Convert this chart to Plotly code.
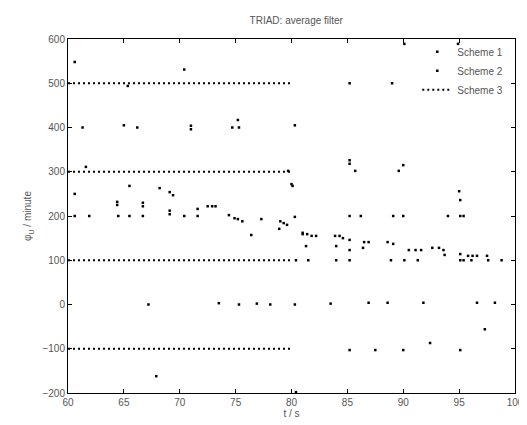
import plotly.graph_objects as go

# ---- data ----
# Scheme 1: raw (quantised) measurements
s1_t = [60.6, 70.4, 90.1, 94.9, 65.35, 85.2, 89.0,
        61.3, 65.0, 66.2, 71.0, 71.0, 74.7, 75.3, 75.2, 80.3,
        61.6, 79.7, 85.2, 85.2, 85.7, 89.6, 90.0,
        60.6, 61.9, 64.5, 65.5, 66.7, 70.4, 71.6, 69.1, 69.1, 80.3, 85.2, 86.2, 89.1, 90.0, 94.0, 95.1, 95.4,
        80.4, 81.5, 84.0, 85.2, 88.9, 90.1, 91.3, 95.1, 95.4, 96.1, 97.6,
        67.2, 73.5, 75.3, 76.9, 78.1, 80.3, 83.5, 86.9, 88.6, 91.8, 96.6, 98.2,
        67.9, 80.4, 85.2, 87.5, 90.0, 92.4, 95.1, 97.3]
s1_phi = [548, 531, 589, 589, 494, 500, 500,
          400, 405, 400, 404, 396, 400, 400, 417, 405,
          311, 302, 326, 318, 302, 302, 315,
          200, 200, 200, 200, 200, 200, 200, 212, 204, 198, 200, 200, 200, 200, 200, 200, 200,
          100, 100, 100, 100, 100, 100, 100, 100, 100, 100, 100,
          0, 3, 0, 2, 0, 0, 2, 4, 4, 4, 4, 4,
          -162, -198, -103, -103, -103, -87, -103, -56]

# Scheme 2: average-filter output
s2_t = [60.6, 64.4, 64.4, 65.5, 66.7, 66.7, 68.2, 69.1, 69.4, 71.6, 72.5, 72.9, 73.2,
        74.4, 74.9, 75.2, 75.6, 76.4, 77.3, 79.0, 79.3, 79.6, 80.0, 80.1, 78.9,
        81.0, 81.0, 81.4, 81.3, 81.8, 82.2, 83.9, 84.3, 84.6, 84.0, 85.2, 85.2,
        86.4, 86.5, 86.9, 88.6, 89.1, 90.5, 91.1, 91.6, 92.6, 93.2, 93.6, 93.7,
        95.0, 95.1, 95.1, 95.8, 96.2, 96.6, 97.5, 98.8]
s2_phi = [250, 232, 225, 268, 230, 222, 263, 254, 247, 216, 222, 222, 222,
          202, 195, 193, 188, 157, 193, 188, 184, 180, 272, 268, 171,
          162, 159, 159, 132, 155, 155, 155, 155, 150, 132, 146, 123,
          128, 141, 141, 141, 137, 123, 123, 123, 128, 128, 123, 112,
          256, 236, 114, 110, 110, 110, 110, 100]

# Scheme 3: dotted reference levels
s3_levels = [500, 300, 100, -100]
s3_start = 60
s3_end = 80

x_ticks = [60, 65, 70, 75, 80, 85, 90, 95, 100]
y_ticks = [-200, -100, 0, 100, 200, 300, 400, 500, 600]

# ---- build ----
s3_t, s3_phi = [], []
for lv in s3_levels:
    s3_t += [s3_start, s3_end, None]
    s3_phi += [lv, lv, None]

FONT = "Liberation Sans, Arial, sans-serif"
TXT = "#555555"

fig = go.Figure()
fig.add_trace(go.Scatter(x=s1_t, y=s1_phi, mode="markers", name="Scheme 1",
                         marker=dict(symbol="square", size=2.5, color="black", line=dict(width=0))))
fig.add_trace(go.Scatter(x=s2_t, y=s2_phi, mode="markers", name="Scheme 2",
                         marker=dict(symbol="square", size=2.5, color="black", line=dict(width=0))))
fig.add_trace(go.Scatter(x=s3_t, y=s3_phi, mode="lines", name="Scheme 3",
                         line=dict(color="black", width=2, dash="2px,3px")))

axis_common = dict(showgrid=False, zeroline=False, showline=True, linecolor="black",
                   linewidth=1, mirror="ticks", ticks="inside", ticklen=4,
                   tickcolor="black", tickfont=dict(family=FONT, size=10, color=TXT))

fig.update_layout(
    width=527, height=425,
    margin=dict(l=60, r=11, t=31, b=40),
    paper_bgcolor="white", plot_bgcolor="white",
    title=dict(text="TRIAD: average filter", x=0.547, xanchor="center", y=0.978, yanchor="top",
               font=dict(family=FONT, size=10, color=TXT)),
    xaxis=dict(range=[60, 100], tickvals=x_ticks,
               title=dict(text="t / s", font=dict(family=FONT, size=10, color=TXT), standoff=2),
               **axis_common),
    yaxis=dict(range=[-200, 600], tickvals=y_ticks,
               title=dict(text="φ<sub>U</sub> / minute", font=dict(family=FONT, size=10, color=TXT), standoff=8),
               **axis_common),
    legend=dict(x=0.985, y=1.005, xanchor="right", yanchor="top",
                bgcolor="rgba(255,255,255,0)", borderwidth=0,
                font=dict(family=FONT, size=10, color=TXT), itemwidth=30,
                tracegroupgap=0),
    showlegend=True,
)

fig.write_html("out.html")
